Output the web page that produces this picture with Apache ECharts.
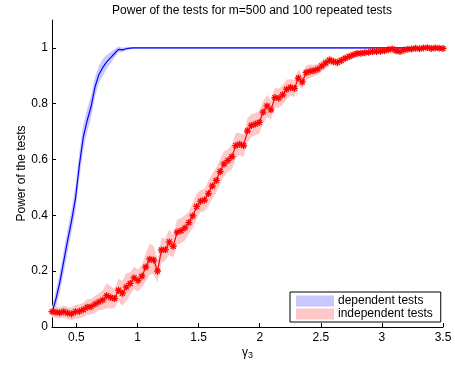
<!DOCTYPE html>
<html><head><meta charset="utf-8">
<script src="https://cdn.jsdelivr.net/npm/echarts@6/dist/echarts.min.js"></script>
<style>html,body{margin:0;padding:0;background:#fff}#c{width:455px;height:369px}</style>
</head><body><div id="c"></div>
<script>
// gamma grid (x values)
const gamma = [];
for (let i = 0; i <= 100; i++) gamma.push(+(0.3 + 0.032 * i).toFixed(3));

const dependentPower = [0.05,0.10,0.16,0.235,0.31,0.38,0.46,0.58,0.68,0.74,0.79,0.86,0.905,0.93,0.95,0.965,0.98,0.995,0.993,0.997,0.999,
 1,1,1,1,1,1,1,1,1,1,1,1,1,1,1,1,1,1,1,1,1,1,1,1,1,1,1,1,1,1,1,1,1,1,1,1,1,1,1,1,1,1,1,1,1,1,1,1,1,1,1,1,1,1,1,1,1,1,1,1,1,1,1,1,1,1,1,1,1,1,1,1,1,1,1,1,1,1,1,1];
const dependentSpread = [0.02,0.03,0.035,0.04,0.04,0.04,0.045,0.045,0.045,0.04,0.04,0.035,0.03,0.03,0.025,0.02,0.015,0.01,0.008,0.006,0.004,
 0.003,0.003,0.003,0.003,0.003,0.003,0.003,0.003,0.003,0.003,0.003,0.003,0.003,0.003,0.003,0.003,0.003,0.003,0.003,0.003,0.003,0.003,0.003,0.003,0.003,0.003,0.003,0.003,0.003,0.003,0.003,0.003,0.003,0.003,0.003,0.003,0.003,0.003,0.003,0.003,0.003,0.003,0.003,0.003,0.003,0.003,0.003,0.003,0.003,0.003,0.003,0.003,0.003,0.003,0.003,0.003,0.003,0.003,0.003,0.003,0.003,0.003,0.003,0.003,0.003,0.003,0.003,0.003,0.003,0.003,0.003,0.003,0.003,0.003,0.003,0.003,0.003,0.003,0.003,0.003];

const independentPower = [0.055,0.053,0.051,0.055,0.050,0.047,0.055,0.056,0.062,0.071,
 0.073,0.082,0.090,0.097,0.112,0.106,0.102,0.132,0.121,0.143,
 0.156,0.176,0.166,0.182,0.215,0.243,0.240,0.200,0.276,0.277,
 0.305,0.289,0.340,0.345,0.355,0.374,0.398,0.432,0.451,0.455,
 0.478,0.505,0.525,0.557,0.584,0.597,0.610,0.650,0.655,0.650,
 0.703,0.722,0.727,0.733,0.770,0.792,0.778,0.822,0.820,0.832,
 0.852,0.858,0.855,0.892,0.878,0.912,0.916,0.919,0.924,0.935,
 0.946,0.956,0.951,0.948,0.955,0.963,0.969,0.975,0.980,0.981,
 0.983,0.984,0.987,0.987,0.988,0.990,0.993,0.996,0.990,0.987,
 0.992,0.995,0.996,0.999,0.997,1.000,1.001,0.998,1.000,0.999,0.998];
const independentSpread = [0.02,0.02,0.02,0.022,0.022,0.022,0.025,0.025,0.025,0.028,
 0.028,0.03,0.03,0.035,0.045,0.04,0.035,0.04,0.045,0.05,
 0.04,0.04,0.04,0.04,0.05,0.055,0.05,0.04,0.045,0.04,
 0.045,0.04,0.045,0.045,0.045,0.04,0.045,0.045,0.04,0.04,
 0.045,0.045,0.045,0.045,0.045,0.04,0.045,0.045,0.04,0.04,
 0.045,0.04,0.04,0.04,0.04,0.04,0.035,0.035,0.035,0.035,
 0.035,0.03,0.03,0.03,0.025,0.025,0.025,0.02,0.02,0.02,
 0.018,0.018,0.015,0.015,0.015,0.012,0.012,0.012,0.01,0.01,
 0.01,0.008,0.008,0.008,0.008,0.007,0.007,0.007,0.007,0.007,
 0.006,0.006,0.006,0.006,0.006,0.006,0.006,0.006,0.006,0.006,0.006];

const xTicks = [0.5,1,1.5,2,2.5,3,3.5];
const yTicks = [0,0.2,0.4,0.6,0.8,1];

function bandSeries(name, vals, spread, color) {
  return {
    type: 'custom', name: name, z: 1,
    data: [[0]],
    renderItem: function (params, api) {
      const pts = [];
      for (let i = 0; i < gamma.length; i++) pts.push(api.coord([gamma[i], Math.min(vals[i] + spread[i], 1.1)]));
      for (let i = gamma.length - 1; i >= 0; i--) pts.push(api.coord([gamma[i], Math.max(vals[i] - spread[i], 0)]));
      return { type: 'polygon', shape: { points: pts }, style: { fill: color }, silent: true,
        clipPath: {type:'rect', shape:{x: params.coordSys.x, y: params.coordSys.y, width: params.coordSys.width, height: params.coordSys.height}} };
    },
    itemStyle: { color: color }
  };
}

const star = 'path://M4.1,0h1.8v10h-1.8z M0,4.1h10v1.8h-10z M0.8,2.1l1.3,-1.3 7.1,7.1 -1.3,1.3z M7.9,0.8l1.3,1.3 -7.1,7.1 -1.3,-1.3z';

const chart = echarts.init(document.getElementById('c'), null, {renderer: 'canvas'});
chart.setOption({
  animation: false,
  textStyle: { fontFamily: 'Liberation Sans, Arial, sans-serif' },
  title: { text: 'Power of the tests for m=500 and 100 repeated tests', left: 247, top: 0, textAlign: 'center',
    textStyle: { fontSize: 12, fontWeight: 'normal', color: '#000' } },
  grid: { left: 52, right: 12, top: 20, bottom: 42 },
  legend: {
    orient: 'vertical', left: 290, top: 292, width: 153,
    backgroundColor: '#fff', borderColor: '#000', borderWidth: 1, borderRadius: 0,
    padding: [3, 8, 2, 6], itemGap: 1, itemWidth: 38, itemHeight: 11,
    textStyle: { fontSize: 12, color: '#000', padding: [0,0,0,-1] },
    icon: 'rect',
    data: [{ name: 'dependent tests', itemStyle: { color: '#c8c8ff' } }, { name: 'independent tests', itemStyle: { color: '#ffc8c8' } }]
  },
  xAxis: {
    type: 'value', min: 0.3, max: 3.5,
    name: '{g|γ}{s|3}', nameLocation: 'middle', nameGap: 18, nameMoveOverlap: false,
    nameTextStyle: { rich: { g: { fontSize: 12, color: '#000' }, s: { fontSize: 9, color: '#000', verticalAlign: 'bottom', padding: [6,0,0,0] } } },
    axisLine: { lineStyle: { color: '#000', width: 1 } },
    axisTick: { inside: true, length: 4, customValues: xTicks, lineStyle: { color: '#000' } },
    axisLabel: { customValues: xTicks, color: '#000', fontSize: 12, margin: 5 },
    splitLine: { show: false }
  },
  yAxis: {
    type: 'value', min: 0, max: 1.1,
    name: 'Power of the tests', nameLocation: 'middle', nameGap: 24, nameMoveOverlap: false,
    nameTextStyle: { fontSize: 12, color: '#000' },
    axisLine: { show: true, lineStyle: { color: '#000', width: 1 } },
    axisTick: { show: true, inside: true, length: 4, customValues: yTicks, lineStyle: { color: '#000' } },
    axisLabel: { customValues: yTicks, color: '#000', fontSize: 12, margin: 4 },
    splitLine: { show: false }
  },
  series: [
    bandSeries('dependent tests', dependentPower, dependentSpread, '#c8c8ff'),
    { type: 'line', name: 'dependentLine', z: 2, data: gamma.map((g, i) => [g, dependentPower[i]]),
      showSymbol: false, symbol: 'none', lineStyle: { color: '#0000ff', width: 1.2 }, itemStyle: {color:'#0000ff'} },
    bandSeries('independent tests', independentPower, independentSpread, '#ffc8c8'),
    { type: 'line', name: 'independentLine', z: 4, data: gamma.map((g, i) => [g, independentPower[i]]),
      symbol: star, symbolSize: 7, showAllSymbol: true,
      lineStyle: { color: '#ff0000', width: 1.2 }, itemStyle: { color: '#ff0000' } }
  ]
});
</script>
</body></html>
